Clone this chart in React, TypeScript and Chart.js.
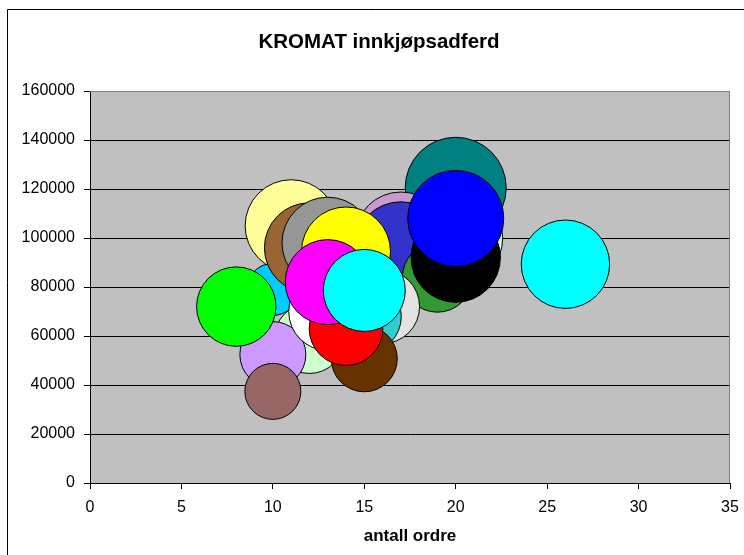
import React, { useEffect, useRef } from "react";
import { Chart, registerables } from "chart.js";

Chart.register(...registerables);

const chartTitle = "KROMAT innkjøpsadferd";
const xAxisTitle = "antall ordre";

const xTickValues = [0, 5, 10, 15, 20, 25, 30, 35];
const yTickValues = [0, 20000, 40000, 60000, 80000, 100000, 120000, 140000, 160000];

// antall ordre (x)
const orders = [20, 20, 17, 11, 17, 17, 19, 20, 20, 16, 15, 10, 12, 13, 14, 12, 10, 10, 8, 13, 15, 14, 13, 15, 26];
// innkjøp (y)
const amounts = [
  120500, 100000, 100000, 105000, 84000, 96000, 84000, 92000, 108000, 72000,
  68000, 79000, 96000, 98000, 94500, 59000, 52400, 37400, 72000, 70000,
  50700, 63000, 82000, 78600, 89300,
];
// bubble size (third value)
const bubbleSizes = [
  50.5, 47, 46, 46, 30, 46, 35, 44.7, 48, 37,
  37, 26, 45, 45.7, 44.5, 35, 33, 28, 39.7, 39,
  33, 36.8, 42.5, 41, 44.2,
];
const bubbleColors = [
  "#008080", "#CCFFFF", "#CC99CC", "#FFFF99", "#666699", "#3333CC", "#339933", "#000000", "#0000FF", "#E3E3E3",
  "#33CCCC", "#00CCFF", "#996633", "#969696", "#FFFF00", "#CCFFCC", "#CC99FF", "#996666", "#00FF00", "#FFFFFF",
  "#663300", "#FF0000", "#FF00FF", "#00FFFF", "#00FFFF",
];

const FONT = "'Liberation Sans', Arial, sans-serif";

const framePlugin = {
  id: "frame",
  beforeDraw(chart: any) {
    const { ctx, chartArea: a, width, height } = chart;
    ctx.save();
    ctx.fillStyle = "#ffffff";
    ctx.fillRect(0, 0, width, height);
    ctx.strokeStyle = "#000000";
    ctx.lineWidth = 1;
    ctx.beginPath();
    ctx.moveTo(7.5, height);
    ctx.lineTo(7.5, 9.5);
    ctx.lineTo(width, 9.5);
    ctx.stroke();
    ctx.fillStyle = "#C0C0C0";
    ctx.fillRect(a.left, a.top, a.right - a.left, a.bottom - a.top);
    ctx.restore();
  },
  beforeDatasetsDraw(chart: any) {
    const { ctx, chartArea: a } = chart;
    ctx.save();
    ctx.strokeStyle = "#808080";
    ctx.lineWidth = 1;
    ctx.beginPath();
    ctx.moveTo(a.left, a.top + 0.5);
    ctx.lineTo(a.right - 0.5, a.top + 0.5);
    ctx.lineTo(a.right - 0.5, a.bottom);
    ctx.stroke();
    ctx.restore();
  },
};

export default function App() {
  const ref = useRef<HTMLCanvasElement | null>(null);

  useEffect(() => {
    if (!ref.current) return;
    Chart.defaults.font.family = FONT;
    const data = orders.map((x, i) => ({ x, y: amounts[i], r: bubbleSizes[i] }));
    const chart = new Chart(ref.current, {
      type: "bubble",
      data: {
        datasets: [
          {
            data,
            backgroundColor: bubbleColors,
            borderColor: "#000000",
            borderWidth: 1,
            hoverRadius: 0,
          } as any,
        ],
      },
      options: {
        responsive: true,
        maintainAspectRatio: false,
        animation: false,
        events: [],
        layout: { autoPadding: false, padding: { left: 14, right: 0, top: 0, bottom: 0 } },
        plugins: {
          legend: { display: false },
          tooltip: { enabled: false },
          title: {
            display: true,
            text: chartTitle,
            color: "#000000",
            font: { family: FONT, size: 20.5, weight: "bold" },
            padding: { top: 30, bottom: 36.4 },
          },
        },
        scales: {
          x: {
            type: "linear",
            position: "bottom",
            min: 0,
            max: 35,
            afterBuildTicks: (s: any) => {
              s.ticks = xTickValues.map((v) => ({ value: v }));
            },
            afterFit: (s: any) => {
              s.height = 72;
              s.paddingLeft = 0;
              s.paddingRight = 0;
            },
            grid: {
              display: true,
              drawOnChartArea: false,
              drawTicks: true,
              tickLength: 6,
              color: "#000000",
              tickColor: "#000000",
            },
            border: { display: true, color: "#000000", width: 1 },
            ticks: {
              color: "#000000",
              font: { family: FONT, size: 16 },
              padding: 9,
              maxRotation: 0,
              autoSkip: false,
              callback: (v: any) => String(v),
            },
            title: {
              display: true,
              text: xAxisTitle,
              color: "#000000",
              font: { family: FONT, size: 17, weight: "bold" },
              padding: { top: 2, bottom: 8.5 },
            },
          },
          y: {
            type: "linear",
            position: "left",
            min: 0,
            max: 160000,
            afterBuildTicks: (s: any) => {
              s.ticks = yTickValues.map((v) => ({ value: v }));
            },
            afterFit: (s: any) => {
              s.width = 76;
              s.paddingTop = 0;
              s.paddingBottom = 0;
            },
            grid: {
              display: true,
              drawTicks: true,
              tickLength: 6,
              color: (c: any) => (c.tick && c.tick.value === 160000 ? "#808080" : "#000000"),
              tickColor: "#000000",
            },
            border: { display: true, color: "#000000", width: 1 },
            ticks: {
              color: "#000000",
              font: { family: FONT, size: 16 },
              padding: 9,
              autoSkip: false,
              callback: (v: any) => String(v),
            },
          },
          yRight: {
            type: "linear",
            position: "right",
            display: true,
            grid: { display: false, drawTicks: false },
            border: { display: false },
            ticks: { display: false },
            afterFit: (s: any) => {
              s.width = 14;
              s.paddingTop = 0;
              s.paddingBottom = 0;
            },
          },
        },
      },
      plugins: [framePlugin],
    });
    return () => chart.destroy();
  }, []);

  return (
    <div style={{ position: "fixed", left: 0, top: 0, width: 744, height: 555, background: "#fff", overflow: "hidden" }}>
      <canvas ref={ref} style={{ display: "block" }} />
    </div>
  );
}
